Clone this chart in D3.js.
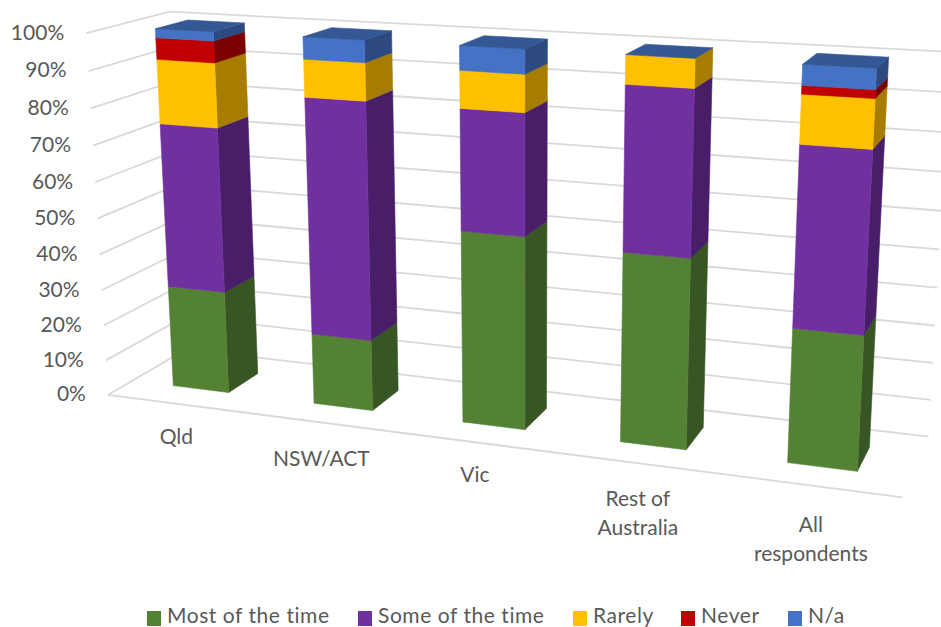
<!DOCTYPE html>
<html><head><meta charset="utf-8">
<script src="https://cdn.jsdelivr.net/npm/d3@7/dist/d3.min.js"></script>
<style>html,body{margin:0;padding:0;background:#fff;overflow:hidden}svg{display:block}text{font-family:Lato,"Open Sans",sans-serif;fill:#595959}</style>
</head><body><div id="chart"></div>
<script>
const categories = ["Qld","NSW/ACT","Vic","Rest of Australia","All respondents"];
const categoryLines = [["Qld"],["NSW/ACT"],["Vic"],["Rest of","Australia"],["All","respondents"]];
const seriesNames = ["Most of the time","Some of the time","Rarely","Never","N/a"];
const mostOfTheTime = [28.8,19.7,52,50.3,35];
const someOfTheTime = [45.5,64.5,32,42.4,45.8];
const rarely = [17.5,10,9.7,7.3,12.1];
const never = [5.8,0,0,0,2.1];
const na = [2.4,5.8,6.3,0,5];
const seriesValues = [mostOfTheTime,someOfTheTime,rarely,never,na];
const frontColors = ["#548235","#7030A0","#FFC000","#C00000","#4472C4"];
const sideColors = ["#375623","#481E69","#A67D00","#7D0000","#2C4A80"];
const topColor = "#345894";
const gridColor = "#D9D9D9";
const yTicks = d3.range(0,101,10);
const labelDrop = [33,36,32,35,39];

const W=941,H=627;
const frame=[
 [[0,0,0],[108,395]],[[1,0,0],[902,497]],[[0,0,1],[186,349]],[[1,0,1],[929,437]],
 [[0,1,0],[86,34]],[[1,1,0],[926,80]],[[0,1,1],[170,11]],[[1,1,1],[950,52.5]]
];
function fitCamera(c){
  const rows=[],rhs=[];
  c.forEach(([[X,Y,Z],[x,y]])=>{
    rows.push([X,Y,Z,1,0,0,0,0,-x*X,-x*Y,-x*Z]);rhs.push(x);
    rows.push([0,0,0,0,X,Y,Z,1,-y*X,-y*Y,-y*Z]);rhs.push(y);
  });
  const n=11,M=d3.range(n).map(i=>d3.range(n+1).map(j=>0));
  rows.forEach((r,k)=>{for(let i=0;i<n;i++){for(let j=0;j<n;j++)M[i][j]+=r[i]*r[j];M[i][n]+=r[i]*rhs[k];}});
  for(let i=0;i<n;i++){
    let p=i;for(let k=i+1;k<n;k++)if(Math.abs(M[k][i])>Math.abs(M[p][i]))p=k;
    [M[i],M[p]]=[M[p],M[i]];
    for(let k=i+1;k<n;k++){const f=M[k][i]/M[i][i];for(let j=i;j<=n;j++)M[k][j]-=f*M[i][j];}
  }
  const s=new Array(n).fill(0);
  for(let i=n-1;i>=0;i--){let t=M[i][n];for(let j=i+1;j<n;j++)t-=M[i][j]*s[j];s[i]=t/M[i][i];}
  return s;
}
const cam=fitCamera(frame);
const project=(u,v,w)=>{
  const d=cam[8]*u+cam[9]*v+cam[10]*w+1;
  return [(cam[0]*u+cam[1]*v+cam[2]*w+cam[3])/d,(cam[4]*u+cam[5]*v+cam[6]*w+cam[7])/d];
};
const xScale=d3.scaleBand().domain(categories).range([0,1]).paddingInner(0.6).paddingOuter(0.3);
const yScale=d3.scaleLinear().domain([0,100]).range([0,1]);
const zScale=d3.scaleLinear().domain([0,1]).range([0.30,0.70]);

const svg=d3.select("#chart").append("svg").attr("width",W).attr("height",H);
const line=d3.line();
const grid=svg.append("g").attr("fill","none").attr("stroke",gridColor).attr("stroke-width",1.8);
yTicks.forEach(t=>{
  const v=yScale(t);
  grid.append("path").attr("d",line([project(0,v,0),project(0,v,1),project(1,v,1)]));
});
grid.append("path").attr("d",line([project(0,0,0),project(1,0,0)]));

svg.append("g").selectAll("text").data(yTicks).join("text")
  .attr("x",t=>project(0,yScale(t),0)[0]-22)
  .attr("y",t=>project(0,yScale(t),0)[1]-1)
  .attr("dy","0.35em").attr("text-anchor","end").attr("font-size",21)
  .text(t=>t+"%");

const stack=d3.stack().keys(d3.range(seriesNames.length)).value((d,k)=>seriesValues[k][d]);
const stacked=stack(d3.range(categories.length));
const barsG=svg.append("g");
const poly=(pts,fill)=>barsG.append("path").attr("d",line(pts)+"Z").attr("fill",fill).attr("stroke",fill).attr("stroke-width",0.6);
categories.forEach((c,i)=>{
  const u0=xScale(c),u1=u0+xScale.bandwidth(),w0=zScale(0),w1=zScale(1);
  stacked.forEach((s,k)=>{
    const [a,b]=s[i];
    if(b-a<=0)return;
    const v0=yScale(a),v1=yScale(b);
    poly([project(u1,v0,w0),project(u1,v0,w1),project(u1,v1,w1),project(u1,v1,w0)],sideColors[k]);
    poly([project(u0,v0,w0),project(u1,v0,w0),project(u1,v1,w0),project(u0,v1,w0)],frontColors[k]);
  });
  const t=yScale(d3.max(stacked,s=>s[i][1]));
  poly([project(u0,t,w0),project(u1,t,w0),project(u1,t,w1),project(u0,t,w1)],topColor);
});

const catG=svg.append("g");
categoryLines.forEach((lines,i)=>{
  const u=xScale(categories[i])+xScale.bandwidth()/2;
  const [px,py]=project(u,0,0);
  lines.forEach((l,j)=>catG.append("text").attr("x",px-1).attr("y",py+labelDrop[i]+j*29).attr("dy","0.35em")
    .attr("text-anchor","middle").attr("font-size",21).text(l));
});

const legendX=d3.scaleOrdinal().domain(seriesNames).range([147,358,573,681,788]);
const lg=svg.append("g").selectAll("g").data(seriesNames).join("g").attr("transform",d=>`translate(${legendX(d)},0)`);
lg.append("rect").attr("y",611).attr("width",14).attr("height",15).attr("fill",(d,i)=>frontColors[i]);
lg.append("text").attr("x",20).attr("y",622.5).attr("font-size",21).attr("letter-spacing",0.55).text(d=>d);
</script></body></html>
